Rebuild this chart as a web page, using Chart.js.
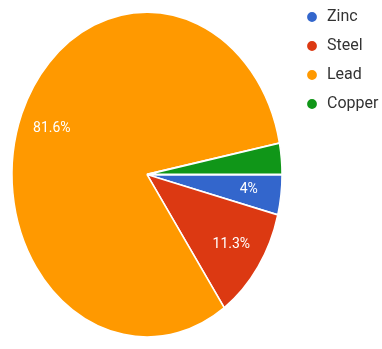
<!DOCTYPE html>
<html>
<head>
<meta charset="utf-8">
<script src="https://cdn.jsdelivr.net/npm/chart.js@4.4.1/dist/chart.umd.min.js"></script>
<style>
	html, body { margin: 0; padding: 0; background: #fff; overflow: hidden; }
	#pieChart { display: block; }
</style>
</head>
<body>
<canvas id="pieChart" width="382" height="349"></canvas>
<script>
// metals share (percent)
var metals = ["Zinc", "Steel", "Lead", "Copper"];
var shares = [4, 11.3, 81.6, 3.1];
var sliceColors = ["#3366cc", "#dc3912", "#ff9900", "#109618"];

// slices smaller than this get no text on them
var labelThreshold = 3.5;

// the original picture is an oval pie (image was stretched vertically)
var stretchY = 162.5 / 135;

// stretch the slices vertically round the pie centre
var ovalPie = {
	id: "ovalPie",
	beforeDatasetsDraw: function (chart) {
		var arc = chart.getDatasetMeta(0).data[0];
		var ctx = chart.ctx;
		ctx.save();
		ctx.translate(0, arc.y);
		ctx.scale(1, stretchY);
		ctx.translate(0, -arc.y);
	},
	afterDatasetsDraw: function (chart) {
		var ctx = chart.ctx;
		ctx.restore();

		// writes the percentage inside each slice
		var meta = chart.getDatasetMeta(0);
		ctx.save();
		ctx.fillStyle = "#ffffff";
		ctx.font = "14px Roboto, Arial, sans-serif";
		ctx.textAlign = "center";
		ctx.textBaseline = "middle";
		meta.data.forEach(function (arc, i) {
			var value = shares[i];
			if (value < labelThreshold) {
				return;
			}
			var p = arc.getProps(["x", "y", "startAngle", "endAngle", "outerRadius"], true);
			var mid = (p.startAngle + p.endAngle) / 2;
			var r = p.outerRadius * 0.76;
			ctx.fillText(value + "%", p.x + Math.cos(mid) * r, p.y + Math.sin(mid) * r * stretchY);
		});
		ctx.restore();
	}
};

var myChart = new Chart(document.getElementById("pieChart").getContext("2d"), {
	type: "pie",
	data: {
		labels: metals,
		datasets: [
			{
				data: shares,
				backgroundColor: sliceColors,
				borderColor: "#ffffff",
				borderWidth: 1.5,
				radius: 135,
			},
		],
	},
	options: {
		responsive: false,
		animation: false,
		devicePixelRatio: 1,
		rotation: 90,
		layout: {
			padding: { top: -4, bottom: -4, left: 2, right: 0 },
		},
		plugins: {
			legend: {
				position: "right",
				align: "start",
				maxWidth: 90,
				labels: {
					usePointStyle: true,
					pointStyle: "circle",
					boxWidth: 14,
					boxHeight: 8,
					padding: 13,
					color: "#333333",
					font: { family: "Roboto, Arial, sans-serif", size: 16 },
				},
			},
			tooltip: { enabled: false },
		},
	},
	plugins: [ovalPie],
});
</script>
</body>
</html>
